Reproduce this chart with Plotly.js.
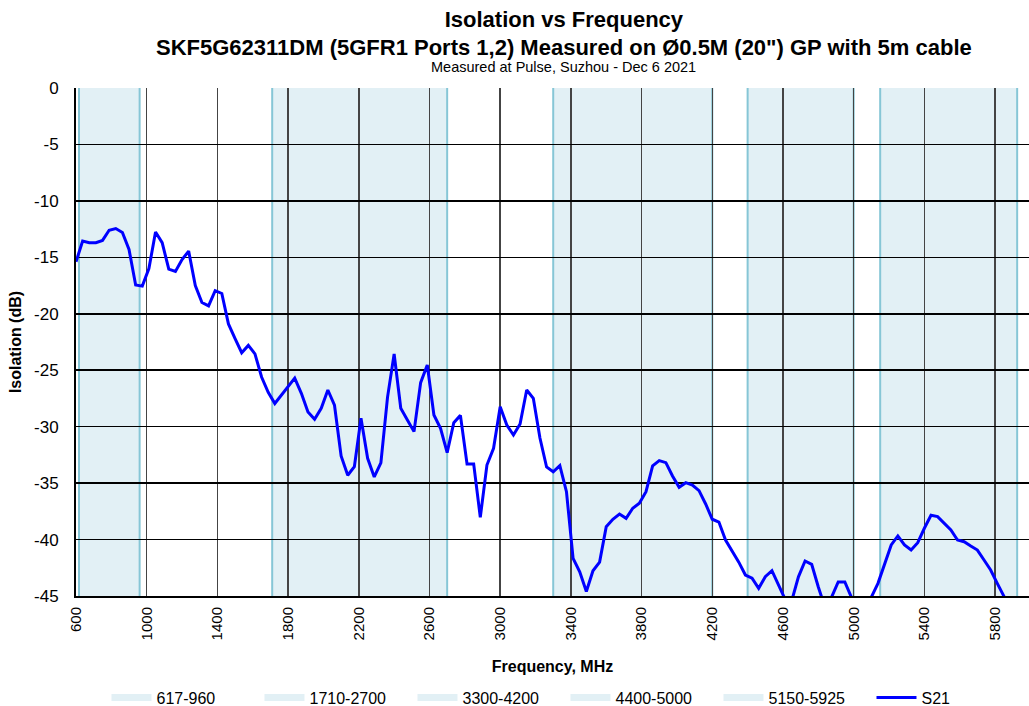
<!DOCTYPE html>
<html>
<head>
<meta charset="utf-8">
<script src="https://cdn.plot.ly/plotly-3.0.1.min.js"></script>
<style>html,body{margin:0;padding:0;background:#fff;}#chart{width:1029px;height:706px;}</style>
</head>
<body>
<div id="chart"></div>
<script>
const freqMHz = [600,637.5,675,712.5,750,787.5,825,862.5,900,937.5,975,1012.5,1050,1087.5,1125,1162.5,1200,1237.5,1275,1312.5,1350,1387.5,1425,1462.5,1500,1537.5,1575,1612.5,1650,1687.5,1725,1762.5,1800,1837.5,1875,1912.5,1950,1987.5,2025,2062.5,2100,2137.5,2175,2212.5,2250,2287.5,2325,2362.5,2400,2437.5,2475,2512.5,2550,2587.5,2625,2662.5,2700,2737.5,2775,2812.5,2850,2887.5,2925,2962.5,3000,3037.5,3075,3112.5,3150,3187.5,3225,3262.5,3300,3337.5,3375,3412.5,3450,3487.5,3525,3562.5,3600,3637.5,3675,3712.5,3750,3787.5,3825,3862.5,3900,3937.5,3975,4012.5,4050,4087.5,4125,4162.5,4200,4237.5,4275,4312.5,4350,4387.5,4425,4462.5,4500,4537.5,4575,4612.5,4650,4687.5,4725,4762.5,4800,4837.5,4875,4912.5,4950,4987.5,5025,5062.5,5100,5137.5,5175,5212.5,5250,5287.5,5325,5362.5,5400,5437.5,5475,5512.5,5550,5587.5,5625,5662.5,5700,5737.5,5775,5812.5,5850,5887.5,5925,5962.5,6000];
const s21dB = [-15.4,-13.55,-13.7,-13.7,-13.5,-12.6,-12.45,-12.8,-14.3,-17.45,-17.55,-16.0,-12.75,-13.7,-16.05,-16.25,-15.2,-14.45,-17.5,-19.0,-19.3,-17.95,-18.2,-20.9,-22.2,-23.45,-22.8,-23.55,-25.6,-26.95,-27.95,-27.2,-26.5,-25.7,-27.05,-28.7,-29.35,-28.37,-26.75,-28.1,-32.6,-34.3,-33.55,-29.26,-32.8,-34.45,-33.2,-27.4,-23.56,-28.37,-29.4,-30.44,-26.1,-24.54,-28.97,-30.15,-32.3,-29.65,-29.0,-33.3,-33.3,-38.03,-33.4,-31.92,-28.23,-29.85,-30.74,-29.76,-26.75,-27.49,-31.0,-33.57,-34.0,-33.45,-35.76,-41.66,-42.85,-44.6,-42.76,-42.0,-38.86,-38.2,-37.74,-38.12,-37.23,-36.79,-35.76,-33.48,-33.01,-33.19,-34.37,-35.37,-34.96,-35.17,-35.67,-36.85,-38.2,-38.45,-40.05,-41.05,-42.0,-43.14,-43.43,-44.32,-43.29,-42.76,-44.03,-45.3,-45.4,-43.3,-41.9,-42.2,-44.2,-46.0,-45.1,-43.75,-43.75,-45.2,-46.5,-46.5,-45.1,-43.88,-42.25,-40.48,-39.68,-40.48,-40.93,-40.28,-39.0,-37.85,-37.97,-38.56,-39.15,-40.04,-40.19,-40.57,-40.93,-41.81,-42.7,-43.88,-45.06,-46.2,-47.3,-48.2,-49.0];
const bandLabels = ['617-960','1710-2700','3300-4200','4400-5000','5150-5925'];
const bandStart = [617,1710,3300,4400,5150];
const bandEnd = [960,2700,4200,5000,5925];
const xTickVals = [600,1000,1400,1800,2200,2600,3000,3400,3800,4200,4600,5000,5400,5800];
const yTickVals = [0,-5,-10,-15,-20,-25,-30,-35,-40,-45];

const bandFill = '#e2f0f5';
const bandEdge = '#86c6d6';

const traces = bandLabels.map(lbl => ({
  x: [null], y: [null], type: 'scatter', mode: 'lines', name: lbl,
  line: {color: bandFill, width: 7}, hoverinfo: 'skip'
}));
traces.push({
  x: freqMHz, y: s21dB, type: 'scatter', mode: 'lines', name: 'S21',
  line: {color: '#0000ff', width: 3}
});

const shapes = [];
bandLabels.forEach((lbl, i) => {
  shapes.push({type: 'rect', xref: 'x', yref: 'y', x0: bandStart[i], x1: bandEnd[i], y0: -45, y1: 0,
    fillcolor: bandFill, line: {width: 0}, layer: 'below'});
  [bandStart[i], bandEnd[i]].forEach(v => shapes.push({type: 'line', xref: 'x', yref: 'y', x0: v, x1: v, y0: -45, y1: 0,
    line: {color: bandEdge, width: 2}, layer: 'below'}));
});

const layout = {
  width: 1029, height: 706,
  margin: {l: 76, r: 0, t: 88, b: 110, autoexpand: false},
  paper_bgcolor: '#fff', plot_bgcolor: '#fff',
  font: {family: 'Liberation Sans, Arial, sans-serif', color: '#000'},
  title: {
    text: '<b>Isolation vs Frequency</b><br><b>SKF5G62311DM (5GFR1 Ports 1,2) Measured on Ø0.5M (20") GP with 5m cable</b>',
    font: {size: 22, family: 'Liberation Sans, Arial, sans-serif'},
    x: 0.548, xanchor: 'center', y: 0.962, yanchor: 'top', yref: 'container'
  },
  annotations: [{
    text: 'Measured at Pulse, Suzhou - Dec 6 2021', xref: 'paper', yref: 'paper',
    x: 0.512, y: 1.041, xanchor: 'center', yanchor: 'middle', showarrow: false,
    font: {size: 14.5}
  }],
  xaxis: {
    range: [600, 5992], tickvals: xTickVals, ticktext: xTickVals.map(String), tickangle: -90,
    tickfont: {size: 15}, showgrid: true, gridcolor: '#444', gridwidth: 1.5,
    showline: true, linecolor: '#000', linewidth: 2, ticks: '', zeroline: false,
    ticklabelstandoff: 3, automargin: false,
    title: {text: '<b>Frequency, MHz</b>', font: {size: 16}, standoff: 21}
  },
  yaxis: {
    range: [-45, 0], tickvals: yTickVals, ticktext: yTickVals.map(String),
    tickfont: {size: 17}, showgrid: true, gridcolor: '#000', gridwidth: 1.5,
    showline: true, linecolor: '#000', linewidth: 2, ticks: '', zeroline: false,
    ticklabelstandoff: 12, automargin: false,
    title: {text: '<b>Isolation (dB)</b>', font: {size: 16}, standoff: 8}
  },
  legend: {
    orientation: 'h', x: 0.032, xanchor: 'left', y: -0.2, yanchor: 'middle',
    font: {size: 16}, itemwidth: 40, entrywidth: 98, entrywidthmode: 'pixels',
    bgcolor: 'rgba(0,0,0,0)'
  },
  shapes: shapes,
  showlegend: true
};

Plotly.newPlot('chart', traces, layout, {displayModeBar: false, staticPlot: true});
</script>
</body>
</html>
